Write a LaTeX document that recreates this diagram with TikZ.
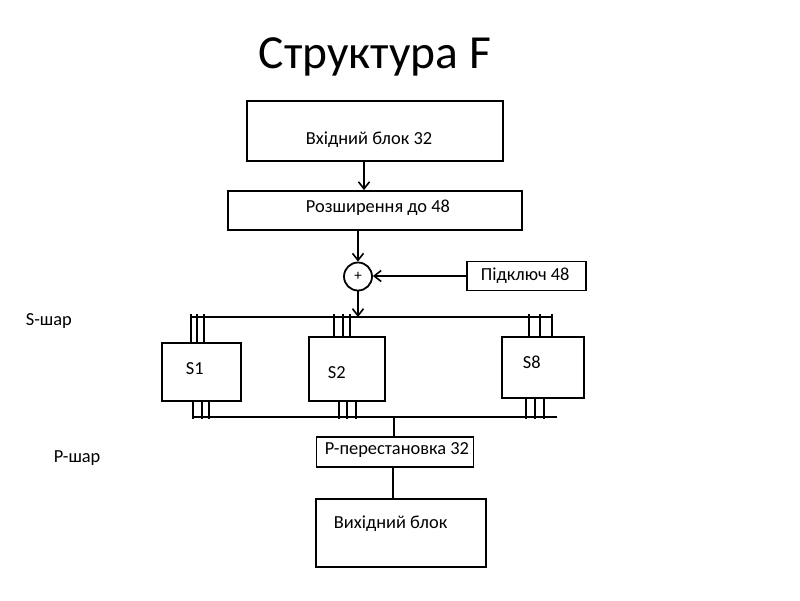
\documentclass[tikz,border=0pt]{standalone}
\usepackage{fontspec}
\setmainfont{Carlito}
\usetikzlibrary{arrows.meta}
\begin{document}
\begin{tikzpicture}[x=1pt,y=-1pt,line width=1.8pt,
  box/.style={draw,rectangle,inner sep=0pt},
  txt/.style={font=\fontsize{18.4}{20}\selectfont,inner sep=0pt,anchor=base west},
  arr/.style={-{Straight Barb[length=7pt,width=11pt,line width=1.6pt]}}]
\useasboundingbox (0,0) rectangle (800,600);
% title
\node[inner sep=0pt,anchor=base west,font=\fontsize{47.5}{52}\selectfont] (title) at (258,68) {Структура F};
% boxes
\node[box,minimum width=256pt,minimum height=60pt] (in) at (375,131) {};
\node[box,minimum width=294pt,minimum height=39pt] (exp) at (375,210.5) {};
\node[draw,circle,minimum size=28pt,inner sep=0pt,font=\fontsize{15}{16}\selectfont] (xor) at (358,276.5) {+};
\node[box,minimum width=119pt,minimum height=29pt] (key) at (526.5,276) {};
\node[box,minimum width=79pt,minimum height=58pt] (S1) at (201.5,372) {};
\node[box,minimum width=76pt,minimum height=64pt] (S2) at (347,369) {};
\node[box,minimum width=82pt,minimum height=61pt] (S8) at (543,367.5) {};
\node[box,minimum width=157pt,minimum height=30pt] (P) at (395,452) {};
\node[box,minimum width=170pt,minimum height=68pt] (out) at (401,533) {};
% texts
\node[txt] (tin) at (305,144) {Вхідний блок 32};
\node[txt] (texp) at (305,212) {Розширення до 48};
\node[txt] (tkey) at (480,280) {Підключ 48};
\node[txt] (tS1) at (185,374) {S1};
\node[txt] (tS2) at (327,378) {S2};
\node[txt] (tS8) at (522,368) {S8};
\node[txt] (tP) at (324,454) {P-перестановка 32};
\node[txt] (tout) at (333,528) {Вихідний блок};
\node[txt] (tsl) at (25,325) {S-шар};
\node[txt] (tpl) at (53,462) {P-шар};
% buses
\coordinate (tbL) at (190,317);
\coordinate (tbR) at (553,317);
\coordinate (bbL) at (192,417);
\coordinate (bbR) at (557,417);
\draw (tbL) -- (tbR);
\draw (bbL) -- (bbR);
% connectors
\draw[arr] ([xshift=-11pt]in.south) -- ([xshift=-11pt]in.south |- exp.north);
\draw[arr] (xor.north |- exp.south) -- (xor.north);
\draw[arr] (key.west) -- (key.west -| xor.east);
\draw[arr] (xor.south) -- (xor.south |- tbL);
% S-box input taps
\foreach \d in {-10.5,-4.5,2.5} \draw ([xshift=\d pt]S1.north) -- ++(0,-28);
\foreach \d in {-13,-4,3} \draw ([xshift=\d pt]S2.north) -- ++(0,-22);
\foreach \d in {-14,-3,9} \draw ([xshift=\d pt]S8.north) -- ++(0,-22);
% S-box output taps
\foreach \d in {-8.5,0.5,7.5} \draw ([xshift=\d pt]S1.south) -- ++(0,17);
\foreach \d in {-8,0,9} \draw ([xshift=\d pt]S2.south) -- ++(0,17);
\foreach \d in {-17,-8,1} \draw ([xshift=\d pt]S8.south) -- ++(0,20);
% to P and output
\draw ([xshift=-1pt]P.north |- bbL) -- ([xshift=-1pt]P.north);
\draw ([xshift=-2pt]P.south) -- ([xshift=-2pt]P.south |- out.north);
\end{tikzpicture}
\end{document}
